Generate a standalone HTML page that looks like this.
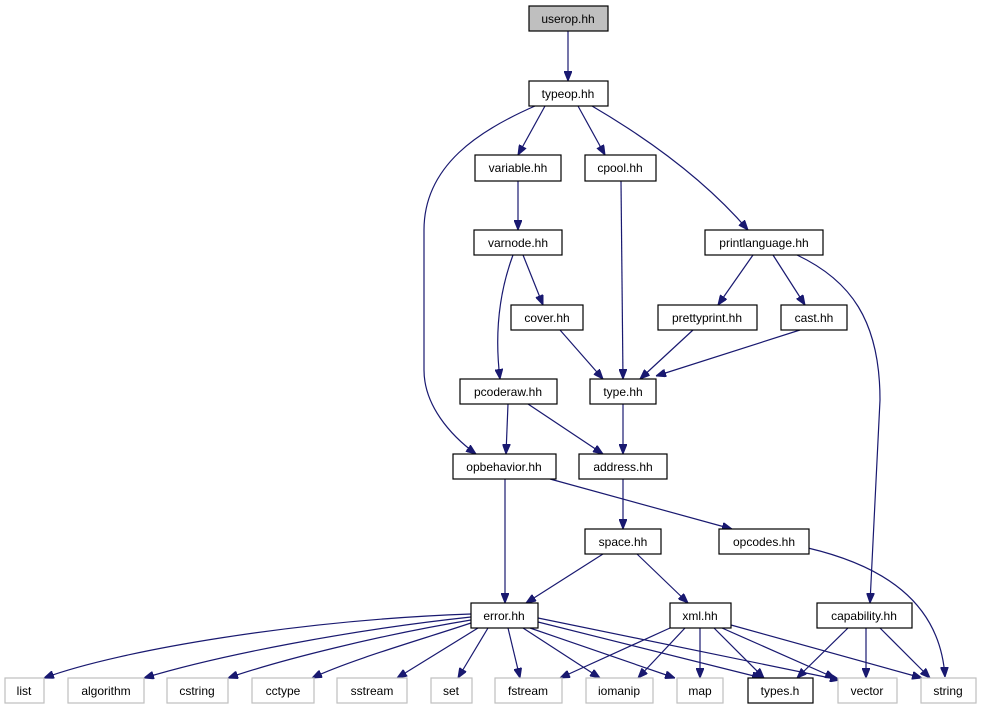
<!DOCTYPE html>
<html><head><meta charset="utf-8"><style>
html,body{margin:0;padding:0;background:#fff;}
svg{display:block;}
text{font-family:"Liberation Sans",Helvetica,sans-serif;font-size:12px;fill:#000;text-anchor:middle;}
.b rect{fill:#fff;stroke:#000;stroke-width:1.2;}
.g rect{fill:#fff;stroke:#bfbfbf;stroke-width:1.2;}
path{fill:none;stroke:#191970;stroke-width:1.2;}
</style></head><body>
<svg width="981" height="709" viewBox="0 0 981 709" xmlns="http://www.w3.org/2000/svg">
<defs><marker id="a" viewBox="0 0 10 8" refX="10" refY="4" markerWidth="10" markerHeight="8" markerUnits="userSpaceOnUse" orient="auto"><path d="M0,0 L10,4 L0,8 z" style="fill:#191970;stroke:#191970;stroke-width:1"/></marker></defs>
<g marker-end="url(#a)">
<path d="M568,31 L568,81"/>
<path d="M545,106 L518,155"/>
<path d="M578,106 L605,155"/>
<path d="M592,106 C650,140 705,180 748,230"/>
<path d="M535,106 C480,130 424,165 424,230 L424,370 C424,405 450,435 476,454"/>
<path d="M518,181 L518,230"/>
<path d="M523,255 L543,305"/>
<path d="M513,255 C500,290 494,330 500,379"/>
<path d="M621,181 L623,379"/>
<path d="M753,255 L718,305"/>
<path d="M773,255 L805,305"/>
<path d="M797,255 C850,280 880,320 880,400 L870,603"/>
<path d="M560,330 L603,379"/>
<path d="M693,330 L640,379"/>
<path d="M800,330 L656,376"/>
<path d="M508,404 L506,454"/>
<path d="M528,404 L603,454"/>
<path d="M623,404 L623,454"/>
<path d="M623,479 L623,529"/>
<path d="M550,479 L732,529"/>
<path d="M505,479 L505,603"/>
<path d="M603,554 L526,603"/>
<path d="M637,554 L688,603"/>
<path d="M808,548 C880,565 940,600 945,677"/>
<path d="M848,628 L797,678"/>
<path d="M866,628 L866,678"/>
<path d="M880,628 L930,678"/>
<path d="M471,614 C300,620 120,650 44,678"/>
<path d="M471,617 C350,630 220,655 144,678"/>
<path d="M471,620 C380,635 280,660 228,678"/>
<path d="M471,623 C420,640 350,660 312,678"/>
<path d="M478,628 L397,678"/>
<path d="M488,628 L458,678"/>
<path d="M508,628 L520,678"/>
<path d="M523,628 L600,678"/>
<path d="M530,628 L675,678"/>
<path d="M538,622 L762,678"/>
<path d="M538,618 L840,680"/>
<path d="M670,628 L560,678"/>
<path d="M685,628 L638,678"/>
<path d="M700,628 L700,678"/>
<path d="M714,628 L764,678"/>
<path d="M722,628 L835,678"/>
<path d="M731,625 L922,678"/>
</g>
<g class="b">
<rect x="529" y="6" width="79" height="25" style="fill:#bfbfbf"/><text x="568" y="23">userop.hh</text>
<rect x="529" y="81" width="79" height="25"/><text x="568" y="98">typeop.hh</text>
<rect x="475" y="155" width="86" height="26"/><text x="518" y="172">variable.hh</text>
<rect x="585" y="155" width="71" height="26"/><text x="620" y="172">cpool.hh</text>
<rect x="474" y="230" width="88" height="25"/><text x="518" y="247">varnode.hh</text>
<rect x="705" y="230" width="118" height="25"/><text x="764" y="247">printlanguage.hh</text>
<rect x="511" y="305" width="72" height="25"/><text x="547" y="322">cover.hh</text>
<rect x="658" y="305" width="99" height="25"/><text x="707" y="322">prettyprint.hh</text>
<rect x="781" y="305" width="66" height="25"/><text x="814" y="322">cast.hh</text>
<rect x="460" y="379" width="97" height="25"/><text x="508" y="396">pcoderaw.hh</text>
<rect x="590" y="379" width="66" height="25"/><text x="623" y="396">type.hh</text>
<rect x="453" y="454" width="103" height="25"/><text x="504" y="471">opbehavior.hh</text>
<rect x="579" y="454" width="88" height="25"/><text x="623" y="471">address.hh</text>
<rect x="585" y="529" width="76" height="25"/><text x="623" y="546">space.hh</text>
<rect x="719" y="529" width="90" height="25"/><text x="764" y="546">opcodes.hh</text>
<rect x="471" y="603" width="67" height="25"/><text x="504" y="620">error.hh</text>
<rect x="670" y="603" width="61" height="25"/><text x="700" y="620">xml.hh</text>
<rect x="817" y="603" width="95" height="25"/><text x="864" y="620">capability.hh</text>
<rect x="748" y="678" width="65" height="25"/><text x="780" y="695">types.h</text>
</g>
<g class="g">
<rect x="5" y="678" width="39" height="25"/><text x="24" y="695">list</text>
<rect x="68" y="678" width="76" height="25"/><text x="106" y="695">algorithm</text>
<rect x="167" y="678" width="61" height="25"/><text x="197" y="695">cstring</text>
<rect x="252" y="678" width="62" height="25"/><text x="283" y="695">cctype</text>
<rect x="337" y="678" width="70" height="25"/><text x="372" y="695">sstream</text>
<rect x="431" y="678" width="41" height="25"/><text x="451" y="695">set</text>
<rect x="495" y="678" width="67" height="25"/><text x="528" y="695">fstream</text>
<rect x="586" y="678" width="67" height="25"/><text x="619" y="695">iomanip</text>
<rect x="677" y="678" width="46" height="25"/><text x="700" y="695">map</text>
<rect x="838" y="678" width="59" height="25"/><text x="867" y="695">vector</text>
<rect x="921" y="678" width="55" height="25"/><text x="948" y="695">string</text>
</g>
</svg>
</body></html>
